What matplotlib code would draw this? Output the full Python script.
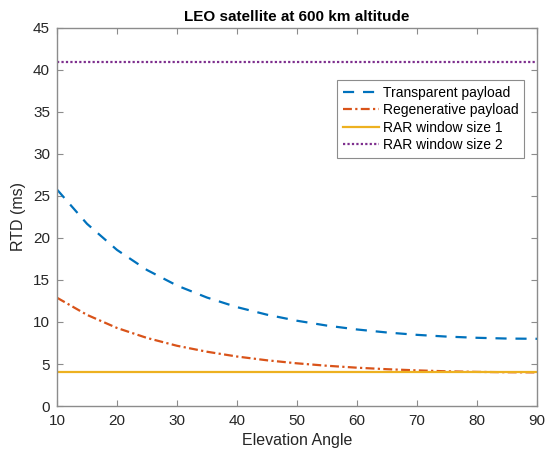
import matplotlib.pyplot as plt

plt.rcParams['font.family'] = ['Liberation Sans', 'DejaVu Sans']

# data
elevation = [10, 15, 20, 25, 30, 35, 40, 45, 50, 55, 60, 65, 70, 75, 80, 85, 90]
transparent = [25.77, 21.69, 18.58, 16.19, 14.34, 12.91, 11.77, 10.87, 10.15,
               9.57, 9.11, 8.75, 8.47, 8.26, 8.12, 8.03, 8.00]
regenerative = [12.89, 10.85, 9.29, 8.10, 7.17, 6.46, 5.89, 5.44, 5.08,
                4.79, 4.56, 4.38, 4.24, 4.13, 4.06, 4.02, 4.00]
rar_size_1 = 4
rar_size_2 = 41

blue = '#0072BD'
orange = '#D95319'
yellow = '#EDB120'
purple = '#7E2F8E'
grey = '#8c8c8c'
text_c = '#262626'

fig = plt.figure(figsize=(5.49, 4.54), dpi=100)
ax = fig.add_axes([57 / 549, 1 - 406 / 454, 480 / 549, 378 / 454])

ax.plot(elevation, transparent, '--', color=blue, lw=1.6, dashes=(5, 4),
        label='Transparent payload')
ax.plot(elevation, regenerative, '-.', color=orange, lw=1.6,
        dashes=(4, 1.5, 1, 1.5), label='Regenerative payload')
ax.plot([elevation[0], elevation[-1]], [rar_size_1, rar_size_1], '-',
        color=yellow, lw=1.6, label='RAR window size 1')
ax.plot([elevation[0], elevation[-1]], [rar_size_2, rar_size_2], ':',
        color=purple, lw=1.6, dashes=(1, 1), label='RAR window size 2')

ax.set_xlim(10, 90)
ax.set_ylim(0, 45)
ax.set_xticks(range(10, 91, 10))
ax.set_yticks(range(0, 46, 5))
ax.tick_params(direction='in', top=True, right=True, length=4,
               color=grey, labelcolor=text_c, labelsize=11)
ax.tick_params(axis='x', pad=6)
ax.tick_params(axis='y', pad=5)
for s in ax.spines.values():
    s.set_color(grey)
    s.set_linewidth(1.0)

ax.set_xlabel('Elevation Angle', fontsize=11.5, color=text_c, labelpad=3)
ax.set_ylabel('RTD (ms)', fontsize=11.5, color=text_c, labelpad=5)
ax.set_title('LEO satellite at 600 km altitude', fontsize=11,
             fontweight='bold', color='black', pad=5)

leg = ax.legend(loc='upper right', bbox_to_anchor=(0.973, 0.862),
                borderaxespad=0, fontsize=10, fancybox=False,
                framealpha=1, edgecolor=grey, handlelength=2.6,
                handletextpad=0.3, labelspacing=0.25, borderpad=0.4)
leg.get_frame().set_linewidth(0.8)

plt.savefig('out.png', dpi=100)
